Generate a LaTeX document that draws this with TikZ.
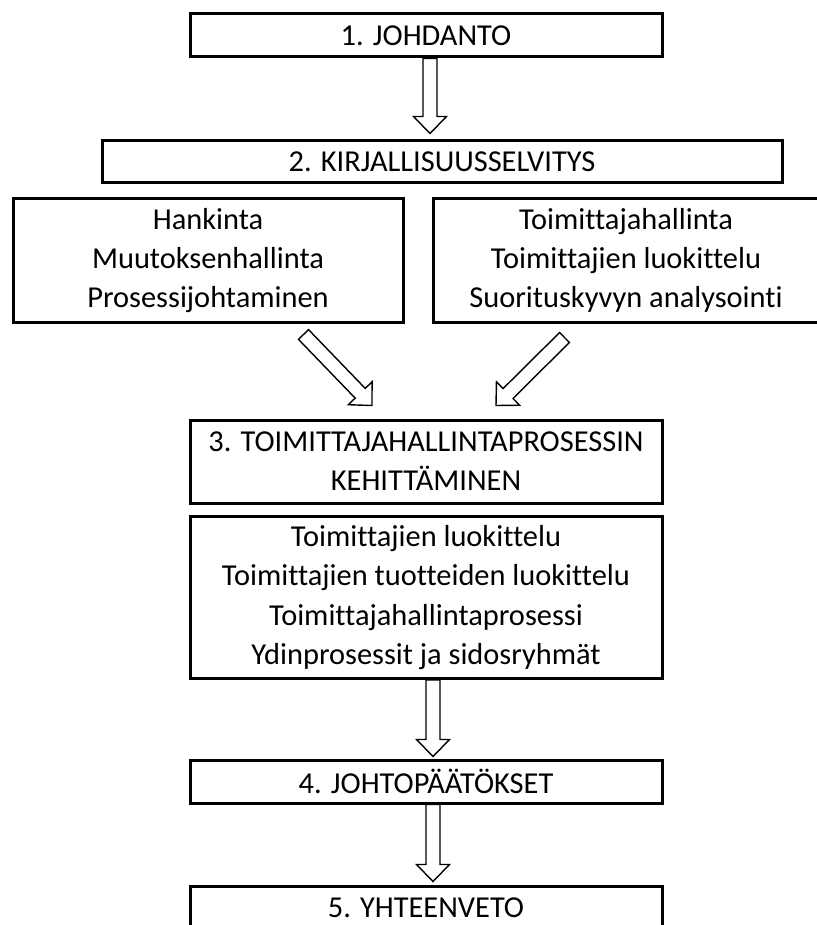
\documentclass[tikz,border=0pt]{standalone}
\usepackage{fontspec}
\setmainfont{Carlito}[Ligatures=NoCommon]
\usetikzlibrary{calc,backgrounds}
\tikzset{
  box/.style={draw, line width=1.5pt, inner sep=0pt, align=center,
    minimum width=236pt, minimum height=21.5pt,
    font=\fontsize{15.2}{19.6}\selectfont},
  hollow/.style={draw, fill=white, line width=0.7pt, line join=miter,
    to path={
      ($(\tikztostart)!3.5pt!90:(\tikztotarget)$)
      -- ($(\tikztotarget)!9.19pt!-22.38:(\tikztostart)$)
      -- ($(\tikztotarget)!11.85pt!-44.14:(\tikztostart)$)
      -- (\tikztotarget)
      -- ($(\tikztotarget)!11.85pt!44.14:(\tikztostart)$)
      -- ($(\tikztotarget)!9.19pt!22.38:(\tikztostart)$)
      -- ($(\tikztostart)!3.5pt!-90:(\tikztotarget)$)
      -- cycle}}
}

\begin{document}
\begin{tikzpicture}[x=0.5pt,y=-0.5pt]
	\useasboundingbox (0,0) rectangle (817,925);
	\clip (0,0) rectangle (817,925);
	% chapters
	\node[box] (intro) at (426,35.5) {1. JOHDANTO};
	\node[box, minimum width=340pt, minimum height=21pt] (lit) at (442,162) {2. KIRJALLISUUSSELVITYS};
	\node[box, minimum width=195pt, minimum height=61.5pt] (hank) at (208,260.5) {Hankinta\\Muutoksenhallinta\\Prosessijohtaminen};
	\node[box, minimum width=193pt, minimum height=61.5pt] (toim) at (626,260.5) {Toimittajahallinta\\Toimittajien luokittelu\\Suorituskyvyn analysointi};
	\node[box, minimum height=41.5pt] (dev) at (426,461.5) {3. TOIMITTAJAHALLINTAPROSESSIN\\KEHITTÄMINEN};
	\node[box, minimum height=81pt] (items) at (426,597.5) {Toimittajien luokittelu\\Toimittajien tuotteiden luokittelu\\Toimittajahallintaprosessi\\Ydinprosessit ja sidosryhmät};
	\node[box] (concl) at (426,781.5) {4. JOHTOPÄÄTÖKSET};
	\node[box] (summ) at (426,907.5) {5. YHTEENVETO};
	% arrow ends
	\coordinate (s1) at ($(intro.south)+(4,0)$);
	\coordinate (t1) at ($(lit.north)+(-12,-6)$);
	\coordinate (s2) at ($(hank.south east)+(-101,11)$);
	\coordinate (t2) at ($(dev.north)+(-54,-13)$);
	\coordinate (s3) at ($(toim.south west)+(133,14)$);
	\coordinate (t3) at ($(dev.north)+(70,-13)$);
	\coordinate (s4) at ($(items.south)+(7,0)$);
	\coordinate (t4) at ($(concl.north)+(7,-2)$);
	\coordinate (s5) at ($(concl.south)+(7,0)$);
	\coordinate (t5) at ($(summ.north)+(7,-3)$);
	\begin{scope}[on background layer]
		\fill[white] (0,0) rectangle (817,925);
		\draw[hollow] (s1) to (t1);
		\draw[hollow] (s2) to (t2);
		\draw[hollow] (s3) to (t3);
		\draw[hollow] (s4) to (t4);
		\draw[hollow] (s5) to (t5);
	\end{scope}
\end{tikzpicture}
\end{document}
